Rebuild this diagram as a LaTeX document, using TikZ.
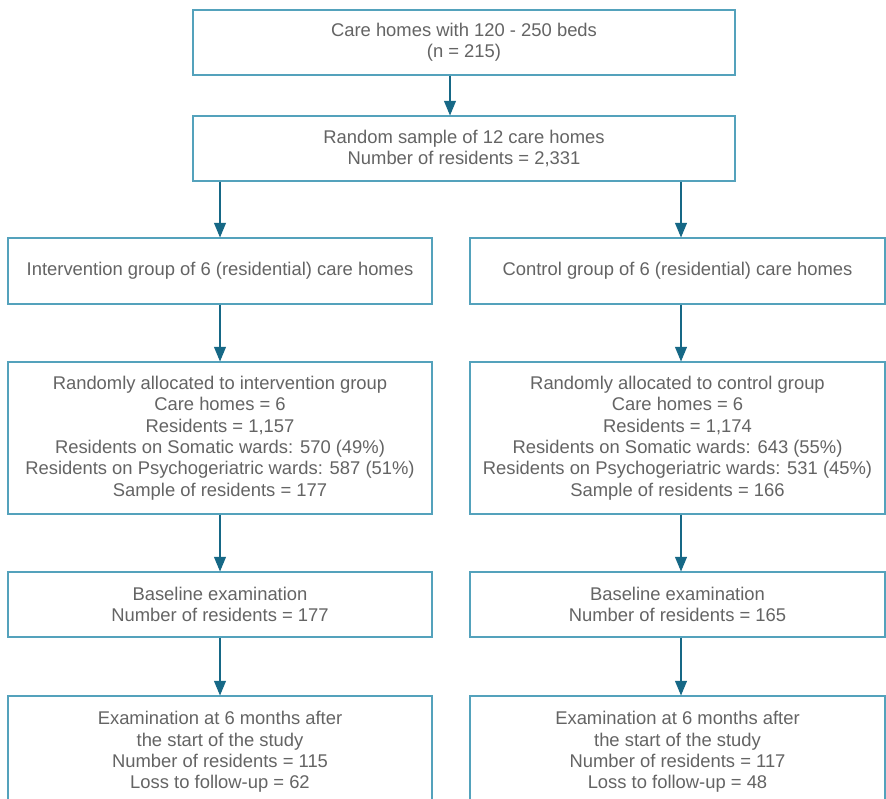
\documentclass[tikz,border=0pt]{standalone}
\usepackage{fontspec}
\setmainfont{Liberation Sans}
\usetikzlibrary{arrows.meta}
\definecolor{boxc}{RGB}{84,162,188}
\definecolor{arrc}{RGB}{22,104,134}
\definecolor{txtc}{RGB}{100,100,100}
\begin{document}
\begin{tikzpicture}[x=0.75pt,y=-0.75pt,
  box/.style={draw=boxc,line width=0.8pt,rectangle,inner sep=0pt,align=center,
    text=txtc,font=\fontsize{13.8pt}{16pt}\selectfont},
  arr/.style={draw=arrc,line width=0.8pt,-{Triangle[width=9pt,length=11pt]}}]
\clip (0,0) rectangle (886,799);
\fill[white] (0,0) rectangle (886,799);
\node[box,minimum width=406.5pt,minimum height=48.75pt] (b1) at (464,42.5)
  {Care homes with 120 - 250 beds\\(n = 215)};
\node[box,minimum width=406.5pt,minimum height=48.75pt] (b2) at (464,148.5)
  {Random sample of 12 care homes\\Number of residents = 2,331};
\node[box,minimum width=318pt,minimum height=49.5pt] (l1) at (220,271)
  {Intervention group of 6 (residential) care homes};
\node[box,minimum width=311.25pt,minimum height=49.5pt] (r1) at (677.5,271)
  {Control group of 6 (residential) care homes};
\node[box,minimum width=318pt,minimum height=114pt] (l2) at (220,438)
  {Randomly allocated to intervention group\\Care homes = 6\\Residents = 1,157\\Residents on Somatic wards: 570 (49\%)\\Residents on Psychogeriatric wards: 587 (51\%)\\Sample of residents = 177};
\node[box,minimum width=311.25pt,minimum height=114pt] (r2) at (677.5,438)
  {Randomly allocated to control group\\Care homes = 6\\Residents = 1,174\\Residents on Somatic wards: 643 (55\%)\\Residents on Psychogeriatric wards: 531 (45\%)\\Sample of residents = 166};
\node[box,minimum width=318pt,minimum height=48.75pt] (l3) at (220,604.5)
  {Baseline examination\\Number of residents = 177};
\node[box,minimum width=311.25pt,minimum height=48.75pt] (r3) at (677.5,604.5)
  {Baseline examination\\Number of residents = 165};
\node[box,minimum width=318pt,minimum height=84pt] (l4) at (220,752)
  {Examination at 6 months after\\the start of the study\\Number of residents = 115\\Loss to follow-up = 62};
\node[box,minimum width=311.25pt,minimum height=84pt] (r4) at (677.5,752)
  {Examination at 6 months after\\the start of the study\\Number of residents = 117\\Loss to follow-up = 48};
\coordinate (ax) at (450,0);
\coordinate (rx) at (681,0);
\draw[arr] (b1.south -| ax) -- (b2.north -| ax);
\draw[arr] (b2.south -| l1.north) -- (l1.north);
\draw[arr] (b2.south -| rx) -- (r1.north -| rx);
\draw[arr] (l1.south) -- (l2.north);
\draw[arr] (r1.south -| rx) -- (r2.north -| rx);
\draw[arr] (l2.south) -- (l3.north);
\draw[arr] (r2.south -| rx) -- (r3.north -| rx);
\draw[arr] (l3.south) -- (l4.north);
\draw[arr] (r3.south -| rx) -- (r4.north -| rx);
\end{tikzpicture}
\end{document}
